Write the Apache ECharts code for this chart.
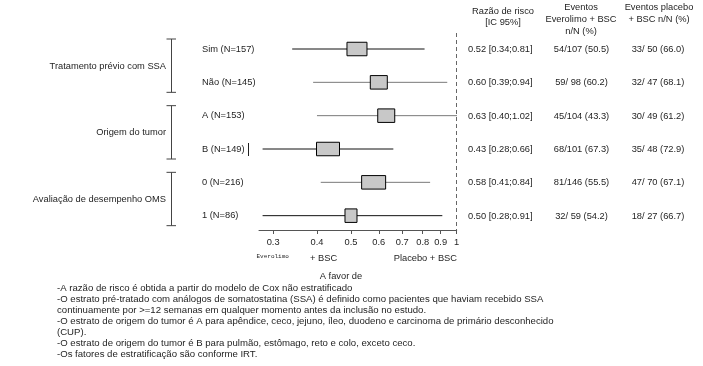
<!DOCTYPE html>
<html><head><meta charset="utf-8">
<script src="https://cdn.jsdelivr.net/npm/echarts@6/dist/echarts.min.js"></script>
<style>html,body{margin:0;padding:0;background:#fff}#c{width:703px;height:366px}</style>
</head><body><div id="c"></div>
<script>
// ---------- DATA ----------
const subgroups = ['Sim (N=157)', 'Não (N=145)', 'A (N=153)', 'B (N=149)', '0 (N=216)', '1 (N=86)'];
const hazardRatio = [0.52, 0.60, 0.63, 0.43, 0.58, 0.50];
const ciLow = [0.34, 0.39, 0.40, 0.28, 0.41, 0.28];
const ciHigh = [0.81, 0.94, 1.02, 0.66, 0.84, 0.91];
const boxWeight = [20, 17, 17, 23, 24, 12];
const eventsEverolimus = ['54/107 (50.5)', '59/ 98 (60.2)', '45/104 (43.3)', '68/101 (67.3)', '81/146 (55.5)', '32/ 59 (54.2)'];
const eventsPlacebo = ['33/ 50 (66.0)', '32/ 47 (68.1)', '30/ 49 (61.2)', '35/ 48 (72.9)', '47/ 70 (67.1)', '18/ 27 (66.7)'];
const groupNames = ['Tratamento prévio com SSA', 'Origem do tumor', 'Avaliação de desempenho OMS'];
const groupFirstRow = [0, 2, 4];
const groupLastRow = [1, 3, 5];
const tickValues = [0.3, 0.4, 0.5, 0.6, 0.7, 0.8, 0.9, 1];
const tickLabels = ['0.3', '0.4', '0.5', '0.6', '0.7', '0.8', '0.9', '1'];
const axisMinValue = 0.2735;
const axisMaxValue = 1;
const headerHR = ['Razão de risco', '[IC 95%]'];
const headerEvero = ['Eventos', 'Everolimo + BSC', 'n/N (%)'];
const headerPlacebo = ['Eventos placebo', '+ BSC n/N (%)'];
const footnotes = [
  '-A razão de risco é obtida a partir do modelo de Cox não estratificado',
  '-O estrato pré-tratado com análogos de somatostatina (SSA) é definido como pacientes que haviam recebido SSA',
  'continuamente por >=12 semanas em qualquer momento antes da inclusão no estudo.',
  '-O estrato de origem do tumor é A para apêndice, ceco, jejuno, íleo, duodeno e carcinoma de primário desconhecido',
  '(CUP).',
  '-O estrato de origem do tumor é B para pulmão, estômago, reto e colo, exceto ceco.',
  '-Os fatores de estratificação são conforme IRT.'
];

// ---------- STYLE ----------
const FF = '"Liberation Sans", Arial, sans-serif';
const FS = 9.3;
const FONT = FS + 'px ' + FF;
const FOOT_FONT = '9.6px ' + FF;
const TXT = '#1e1e1e';
const ciColors = ['#111', '#7a7a7a', '#7a7a7a', '#111', '#7a7a7a', '#111'];

function txt(text, x, y, align, font, fill) {
  return {
    type: 'text', x: x, y: y, silent: true,
    style: { text: text, font: font || FONT, fill: fill || TXT,
      align: align, verticalAlign: 'middle', textAlign: align, textVerticalAlign: 'middle' }
  };
}

const forestData = hazardRatio.map((v, i) => [Math.log(v), i + 1, Math.log(ciLow[i]), Math.log(ciHigh[i]), boxWeight[i], i]);
const rowData = subgroups.map((s, i) => [0, i + 1, i]);
const groupData = groupNames.map((g, i) => [0, groupFirstRow[i] + 1, groupLastRow[i] + 1, i]);

const chart = echarts.init(document.getElementById('c'), null, { renderer: 'canvas' });

const graphics = [];
graphics.push(txt(headerHR[0], 503, 11, 'center'));
graphics.push(txt(headerHR[1], 503, 22, 'center'));
headerEvero.forEach((t, i) => graphics.push(txt(t, 581, 7.5 + i * 11.8, 'center')));
headerPlacebo.forEach((t, i) => graphics.push(txt(t, 659, 7.5 + i * 11.8, 'center')));
graphics.push(txt('Everolimo', 256.5, 256, 'left', '6px "Liberation Mono", monospace'));
graphics.push(txt('+ BSC', 310, 258.5, 'left'));
graphics.push(txt('Placebo + BSC', 457, 258.5, 'right'));
graphics.push(txt('A favor de', 341, 276.5, 'center'));
footnotes.forEach((t, i) => graphics.push(txt(t, 57, 288 + i * 11, 'left', FOOT_FONT)));
graphics.push({ type: 'line', silent: true, shape: { x1: 248.5, y1: 143, x2: 248.5, y2: 156 }, style: { stroke: '#222', lineWidth: 1 } });

chart.setOption({
  animation: false,
  backgroundColor: '#fff',
  grid: { left: 259, right: 246.3, top: 33, bottom: 136 },
  xAxis: {
    type: 'value', min: Math.log(axisMinValue), max: Math.log(axisMaxValue),
    axisLine: { show: true, onZero: false, lineStyle: { color: '#555', width: 1 } },
    axisTick: { show: true, customValues: tickValues.map(Math.log), length: 4, lineStyle: { color: '#555' } },
    axisLabel: {
      customValues: tickValues.map(Math.log), margin: 8, fontSize: FS, fontFamily: FF, color: TXT,
      formatter: function (v) {
        let best = 0, d = Infinity;
        tickValues.forEach((t, i) => { const dd = Math.abs(Math.log(t) - v); if (dd < d) { d = dd; best = i; } });
        return tickLabels[best];
      }
    },
    splitLine: { show: false }
  },
  yAxis: { type: 'value', inverse: true, min: 0.52, max: 6.43, show: false },
  graphic: graphics,
  series: [
    {
      type: 'custom', clip: true, data: forestData, encode: { x: 0, y: 1 },
      renderItem: function (params, api) {
        const row = api.value(1);
        const y = api.coord([0, row])[1];
        const xc = api.coord([api.value(0), row])[0];
        const xlo = api.coord([api.value(2), row])[0];
        const xhi = api.coord([api.value(3), row])[0];
        const w = api.value(4);
        const h = 13.5;
        const idx = api.value(5);
        return {
          type: 'group', children: [
            { type: 'line', shape: { x1: xlo, y1: y, x2: xhi, y2: y }, style: { stroke: ciColors[idx], lineWidth: 1 } },
            { type: 'rect', shape: { x: xc - w / 2, y: y - h / 2, width: w, height: h }, style: { fill: '#c8c8c8', stroke: '#000', lineWidth: 1 } }
          ]
        };
      },
      markLine: {
        silent: true, symbol: 'none', label: { show: false },
        lineStyle: { type: [4, 3], color: '#666', width: 1 },
        data: [{ xAxis: Math.log(axisMaxValue) }]
      }
    },
    {
      type: 'custom', clip: false, data: rowData, encode: { x: 0, y: 1 },
      renderItem: function (params, api) {
        const i = api.value(2);
        const y = api.coord([0, api.value(1)])[1];
        const hrText = hazardRatio[i].toFixed(2) + ' [' + ciLow[i].toFixed(2) + ';' + ciHigh[i].toFixed(2) + ']';
        return {
          type: 'group', children: [
            txt(subgroups[i], 202, y, 'left'),
            txt(hrText, 468, y + 0.5, 'left'),
            txt(eventsEverolimus[i], 581.5, y + 0.5, 'center'),
            txt(eventsPlacebo[i], 658, y + 0.5, 'center')
          ]
        };
      }
    },
    {
      type: 'custom', clip: false, data: groupData, encode: { x: 0, y: 1 },
      renderItem: function (params, api) {
        const i = api.value(3);
        const y1 = api.coord([0, api.value(1) - 0.3])[1];
        const y2 = api.coord([0, api.value(2) + 0.3])[1];
        const ym = api.coord([0, (api.value(1) + api.value(2)) / 2])[1];
        const x = 171.5;
        const st = { stroke: '#444', lineWidth: 1 };
        return {
          type: 'group', children: [
            { type: 'line', shape: { x1: x, y1: y1, x2: x, y2: y2 }, style: st },
            { type: 'line', shape: { x1: 166.5, y1: y1, x2: 176, y2: y1 }, style: st },
            { type: 'line', shape: { x1: 166.5, y1: y2, x2: 176, y2: y2 }, style: st },
            txt(groupNames[i], 166, ym + 0.5, 'right')
          ]
        };
      }
    }
  ]
});
</script></body></html>
